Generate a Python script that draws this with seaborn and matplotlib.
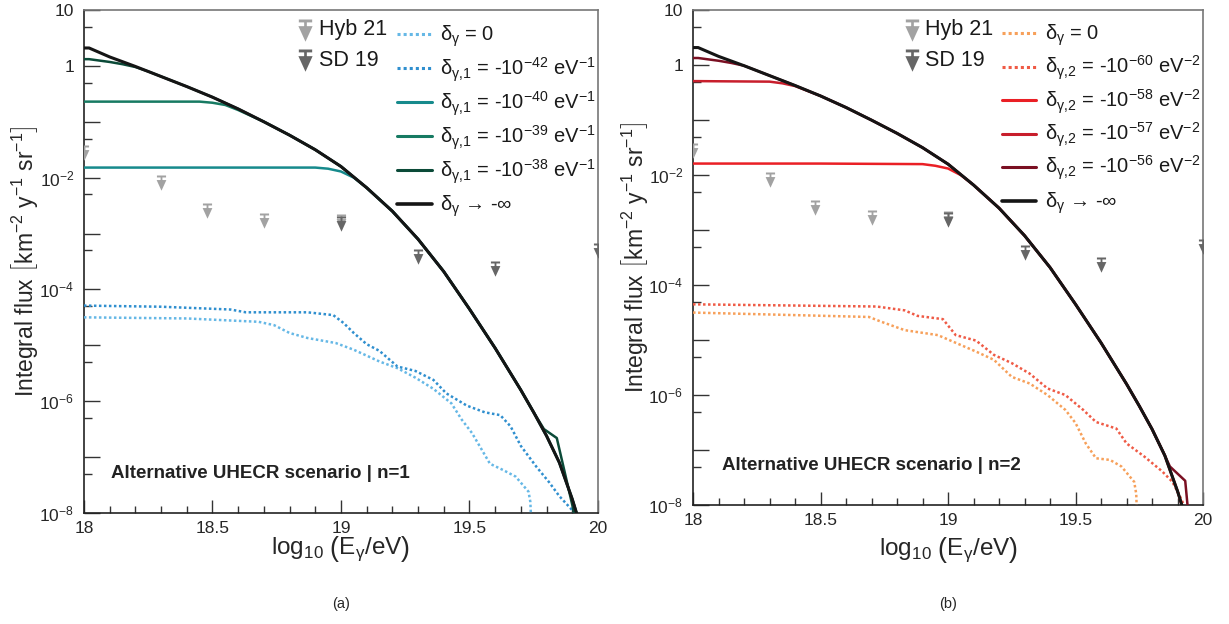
import numpy as np
import pandas as pd
import matplotlib
matplotlib.use("Agg")
import matplotlib.pyplot as plt
import seaborn as sns
from matplotlib.path import Path
from matplotlib.lines import Line2D
from matplotlib.ticker import FixedLocator, FuncFormatter, MultipleLocator

# ── upper limits (log10 E, integral flux) ─────────────────────────────────────
HYB_LOGE = [18.0, 18.3, 18.48, 18.7, 19.0]
HYB_FLUX = [3.9e-2, 1.12e-2, 3.5e-3, 2.3e-3, 2.2e-3]
SD_LOGE = [19.0, 19.3, 19.6, 20.0]
SD_FLUX = [2.1e-3, 5.3e-4, 3.2e-4, 6.8e-4]

# ── delta -> -inf (same in both panels), log10 flux ──────────────────────────
BLACK_X = [18.0, 18.02, 18.1, 18.2, 18.3, 18.4, 18.5, 18.6, 18.7, 18.8, 18.9, 19.0,
           19.1, 19.2, 19.3, 19.4, 19.5, 19.6, 19.7, 19.75, 19.8, 19.85, 19.9, 19.92]
BLACK_LOG = [0.32, 0.32, 0.16, -0.01, -0.19, -0.37, -0.56, -0.77, -1.0, -1.24, -1.5, -1.8,
             -2.18, -2.6, -3.1, -3.68, -4.35, -5.05, -5.8, -6.2, -6.62, -7.1, -7.75, -8.05]

# ── panel (a): n=1 ───────────────────────────────────────────────────────────
A_ZERO_X = [18.0, 18.4, 18.68, 18.74, 18.8, 18.87, 18.98, 19.05, 19.15, 19.22, 19.29,
            19.36, 19.43, 19.47, 19.51, 19.58, 19.63, 19.68, 19.73, 19.737, 19.74]
A_ZERO_LOG = [-4.5, -4.52, -4.58, -4.64, -4.78, -4.87, -4.96, -5.08, -5.29, -5.41, -5.58,
              -5.78, -6.04, -6.33, -6.57, -7.12, -7.23, -7.35, -7.62, -7.8, -8.1]
A42_X = [18.0, 18.3, 18.57, 18.63, 18.87, 18.97, 19.01, 19.05, 19.1, 19.15, 19.22, 19.29,
         19.36, 19.41, 19.49, 19.56, 19.62, 19.66, 19.7, 19.76, 19.81, 19.85, 19.9, 19.92]
A42_LOG = [-4.29, -4.31, -4.36, -4.41, -4.41, -4.46, -4.6, -4.78, -4.98, -5.1, -5.38, -5.46,
           -5.62, -5.86, -6.08, -6.2, -6.25, -6.45, -6.8, -7.17, -7.45, -7.7, -7.95, -8.05]
A40_HEAD_X = [18.0, 18.5, 18.9, 18.95, 19.0, 19.05]
A40_HEAD_LOG = [-1.82, -1.82, -1.82, -1.84, -1.89, -2.0]
A39_HEAD_X = [18.0, 18.45, 18.5, 18.55, 18.6]
A39_HEAD_LOG = [-0.64, -0.64, -0.66, -0.7, -0.79]
A38_HEAD_X = [18.0, 18.02, 18.1, 18.15, 18.2, 18.25]
A38_HEAD_LOG = [0.12, 0.12, 0.07, 0.03, -0.02, -0.1]
A38_TAIL_X = [19.79, 19.84, 19.91]
A38_TAIL_LOG = [-6.5, -6.66, -8.05]

# ── panel (b): n=2 ───────────────────────────────────────────────────────────
B_ZERO_X = [18.0, 18.69, 18.74, 18.83, 18.96, 19.05, 19.11, 19.18, 19.25, 19.32, 19.39,
            19.46, 19.5, 19.54, 19.58, 19.635, 19.68, 19.73, 19.738, 19.74]
B_ZERO_LOG = [-4.5, -4.58, -4.67, -4.82, -4.91, -5.09, -5.21, -5.36, -5.67, -5.79, -6.0,
              -6.27, -6.51, -6.88, -7.15, -7.18, -7.3, -7.58, -7.8, -8.1]
B60_X = [18.0, 18.72, 18.83, 18.88, 18.98, 19.03, 19.11, 19.18, 19.25, 19.32, 19.39,
         19.46, 19.53, 19.58, 19.66, 19.7, 19.77, 19.84, 19.88, 19.91, 19.93]
B60_LOG = [-4.35, -4.39, -4.46, -4.56, -4.62, -4.91, -5.01, -5.27, -5.42, -5.61, -5.88,
           -6.0, -6.27, -6.49, -6.61, -6.88, -7.12, -7.39, -7.58, -7.85, -8.05]
B58_HEAD_X = [18.0, 18.5, 18.9, 18.95, 19.0, 19.05]
B58_HEAD_LOG = [-1.79, -1.79, -1.8, -1.83, -1.88, -2.0]
B57_HEAD_X = [18.0, 18.3, 18.35, 18.4]
B57_HEAD_LOG = [-0.29, -0.3, -0.33, -0.38]
B56_HEAD_X = [18.0, 18.02, 18.1, 18.15, 18.2, 18.25]
B56_HEAD_LOG = [0.13, 0.13, 0.08, 0.04, -0.01, -0.1]
B56_TAIL_X = [19.87, 19.93, 19.94]
B56_TAIL_LOG = [-7.3, -7.56, -8.05]

XTICKS = [18, 18.5, 19, 19.5, 20]
XTICK_LABELS = ["18", "18.5", "19", "19.5", "20"]

W, H = 1229, 624

sns.set_style("ticks")
plt.rcParams["font.family"] = ["Liberation Sans", "DejaVu Sans"]
plt.rcParams["mathtext.fontset"] = "custom"
plt.rcParams["mathtext.rm"] = "Liberation Sans"
plt.rcParams["mathtext.it"] = "Liberation Sans:italic"
plt.rcParams["mathtext.bf"] = "Liberation Sans:bold"


def join_black(head_x, head_log, tail_x=None, tail_log=None):
    """Curve that leaves its plateau and then rides on the delta -> -inf curve."""
    x0 = head_x[-1]
    x1 = tail_x[0] if tail_x else 99
    mid = [(x, l) for x, l in zip(BLACK_X, BLACK_LOG) if x0 < x < x1]
    xs = list(head_x) + [m[0] for m in mid] + list(tail_x or [])
    ls = list(head_log) + [m[1] for m in mid] + list(tail_log or [])
    return xs, ls


def poly(pts):
    return Path(pts + [pts[0]], closed=True)


UL_MARKER = Path.make_compound_path(
    poly([(-0.3, 0.0), (0.3, 0.0), (0.3, -0.13), (-0.3, -0.13)]),
    poly([(-0.06, -0.13), (0.06, -0.13), (0.06, -0.33), (-0.06, -0.33)]),
    poly([(-0.32, -0.3), (0.32, -0.3), (0.0, -1.0)]),
)

HYB_COLOR = "#a2a2a2"
SD_COLOR = "#666666"
DOT = (0, (1, 1))


def fx(xpx):
    return xpx / W


def fy(ypx):
    return 1 - ypx / H


def draw_curve(ax, xs, logs, color, ls, lw, z=3):
    df = pd.DataFrame({"loge": xs, "flux": 10.0 ** np.asarray(logs, dtype=float)})
    sns.lineplot(data=df, x="loge", y="flux", ax=ax, color=color, linestyle=ls,
                 linewidth=lw, estimator=None, sort=False, legend=False, zorder=z)


def draw_limits(ax):
    for xs, ys, col in [(HYB_LOGE, HYB_FLUX, HYB_COLOR), (SD_LOGE, SD_FLUX, SD_COLOR)]:
        df = pd.DataFrame({"loge": xs, "flux": ys})
        sns.scatterplot(data=df, x="loge", y="flux", ax=ax, marker=UL_MARKER, s=480,
                        color=col, edgecolor=col, linewidth=0, legend=False, zorder=4)


def ylab(v, pos):
    k = int(round(np.log10(v)))
    if k == 1:
        return "10"
    if k == 0:
        return "1"
    if k % 2 == 0:
        return r"$10^{%d}$" % k
    return ""


def style_axes(ax, xlab_y):
    ax.set_yscale("log")
    ax.set_xlim(18, 20)
    ax.set_ylim(1e-8, 10)
    ax.yaxis.set_major_locator(FixedLocator([10.0 ** k for k in range(-8, 2)]))
    ax.yaxis.set_minor_locator(FixedLocator([5 * 10.0 ** k for k in range(-8, 1)]))
    ax.yaxis.set_major_formatter(FuncFormatter(ylab))
    ax.xaxis.set_major_locator(FixedLocator(XTICKS))
    ax.xaxis.set_minor_locator(MultipleLocator(0.1))
    ax.set_xticklabels(XTICK_LABELS)
    ax.tick_params(which="both", direction="in", top=False, right=False,
                   color="#333333", labelsize=12.5)
    ax.tick_params(axis="y", which="major", length=11.5, width=1.0, pad=7)
    ax.tick_params(axis="y", which="minor", length=5.8, width=1.0)
    ax.tick_params(axis="x", which="major", length=9.4, width=1.0, pad=6)
    ax.tick_params(axis="x", which="minor", length=5.0, width=1.0)
    for side in ["left", "bottom"]:
        ax.spines[side].set_color("#222222")
        ax.spines[side].set_linewidth(1.2)
    for side in ["top", "right"]:
        ax.spines[side].set_color("#777777")
        ax.spines[side].set_linewidth(1.2)
    ax.set_ylabel(r"Integral flux $\left[\mathrm{km^{-2}\ y^{-1}\ sr^{-1}}\right]$",
                  fontsize=16.5, va="center")
    ax.yaxis.set_label_coords(-0.115, 0.5)
    ax.set_xlabel(r"$\mathrm{log}_{10}\ \left(\mathrm{E_{\gamma}/eV}\right)$",
                  fontsize=17.5, va="center")
    ax.xaxis.set_label_coords(0.5, xlab_y)


def add_legends(lines, mark_x, mark_text_x, line_x0, line_x1, text_x, row0, pitch):
    # upper-limit key
    for i, (col, lab) in enumerate([(HYB_COLOR, "Hyb 21"), (SD_COLOR, "SD 19")]):
        yc = 27.5 + i * 30.5
        fig.add_artist(Line2D([fx(mark_x)], [fy(yc - 9)], transform=fig.transFigure,
                              marker=UL_MARKER, markersize=32, markeredgewidth=0,
                              color=col, linestyle="none"))
        fig.text(fx(mark_text_x), fy(yc + 7.5), lab, fontsize=15.5, va="baseline",
                 color="#1a1a1a")
    # curve key
    for i, (col, ls, lw, lab) in enumerate(lines):
        yc = row0 + i * pitch
        fig.add_artist(Line2D([fx(line_x0), fx(line_x1)], [fy(yc), fy(yc)],
                              transform=fig.transFigure, color=col, linestyle=ls,
                              linewidth=lw + 0.4))
        fig.text(fx(text_x), fy(yc + 7), lab, fontsize=14.5, va="baseline",
                 color="#1a1a1a")


fig = plt.figure(figsize=(12.29, 6.24), dpi=100)
ax1 = fig.add_axes([0.0683, 0.178, 0.4182, 0.806])
ax2 = fig.add_axes([0.5639, 0.1907, 0.415, 0.793])

# ── panel (a) ────────────────────────────────────────────────────────────────
A_LINES = [
    ("#66b8e6", DOT, 1.8, r"$\mathrm{\delta}_{\mathrm{\gamma}}$ = 0"),
    ("#2f8fcf", DOT, 1.8, r"$\mathrm{\delta}_{\mathrm{\gamma},\!1}$ = -10$^{-42}$ eV$^{-1}$"),
    ("#168a8c", "-", 1.8, r"$\mathrm{\delta}_{\mathrm{\gamma},\!1}$ = -10$^{-40}$ eV$^{-1}$"),
    ("#177a62", "-", 1.8, r"$\mathrm{\delta}_{\mathrm{\gamma},\!1}$ = -10$^{-39}$ eV$^{-1}$"),
    ("#0b4a38", "-", 1.8, r"$\mathrm{\delta}_{\mathrm{\gamma},\!1}$ = -10$^{-38}$ eV$^{-1}$"),
    ("#151515", "-", 2.2, r"$\mathrm{\delta}_{\mathrm{\gamma}}$ → -∞"),
]
draw_limits(ax1)
draw_curve(ax1, A_ZERO_X, A_ZERO_LOG, A_LINES[0][0], DOT, 1.8)
draw_curve(ax1, A42_X, A42_LOG, A_LINES[1][0], DOT, 1.8)
draw_curve(ax1, *join_black(A40_HEAD_X, A40_HEAD_LOG), A_LINES[2][0], "-", 1.8)
draw_curve(ax1, *join_black(A39_HEAD_X, A39_HEAD_LOG), A_LINES[3][0], "-", 1.8)
draw_curve(ax1, *join_black(A38_HEAD_X, A38_HEAD_LOG, A38_TAIL_X, A38_TAIL_LOG),
           A_LINES[4][0], "-", 1.8)
draw_curve(ax1, BLACK_X, BLACK_LOG, A_LINES[5][0], "-", 2.2, z=5)
style_axes(ax1, -0.072)
add_legends(A_LINES, 305, 319, 397, 432, 440, 34, 34)
ax1.text(0.052, 0.0775, "Alternative UHECR scenario | n=1", transform=ax1.transAxes,
         fontsize=13.5, fontweight="bold", va="center", color="#222222")

# ── panel (b) ────────────────────────────────────────────────────────────────
B_LINES = [
    ("#f7a05a", DOT, 1.8, r"$\mathrm{\delta}_{\mathrm{\gamma}}$ = 0"),
    ("#ef5a45", DOT, 1.8, r"$\mathrm{\delta}_{\mathrm{\gamma},\!2}$ = -10$^{-60}$ eV$^{-2}$"),
    ("#ea1f25", "-", 1.8, r"$\mathrm{\delta}_{\mathrm{\gamma},\!2}$ = -10$^{-58}$ eV$^{-2}$"),
    ("#c81e2c", "-", 1.8, r"$\mathrm{\delta}_{\mathrm{\gamma},\!2}$ = -10$^{-57}$ eV$^{-2}$"),
    ("#7a0f22", "-", 1.8, r"$\mathrm{\delta}_{\mathrm{\gamma},\!2}$ = -10$^{-56}$ eV$^{-2}$"),
    ("#151515", "-", 2.2, r"$\mathrm{\delta}_{\mathrm{\gamma}}$ → -∞"),
]
draw_limits(ax2)
draw_curve(ax2, B_ZERO_X, B_ZERO_LOG, B_LINES[0][0], DOT, 1.8)
draw_curve(ax2, B60_X, B60_LOG, B_LINES[1][0], DOT, 1.8)
draw_curve(ax2, *join_black(B58_HEAD_X, B58_HEAD_LOG), B_LINES[2][0], "-", 1.8)
draw_curve(ax2, *join_black(B57_HEAD_X, B57_HEAD_LOG), B_LINES[3][0], "-", 1.8)
draw_curve(ax2, *join_black(B56_HEAD_X, B56_HEAD_LOG, B56_TAIL_X, B56_TAIL_LOG),
           B_LINES[4][0], "-", 1.8)
draw_curve(ax2, BLACK_X, BLACK_LOG, B_LINES[5][0], "-", 2.2, z=5)
style_axes(ax2, -0.09)
add_legends(B_LINES, 912, 925, 1002, 1036, 1045, 33, 33.5)
ax2.text(0.057, 0.079, "Alternative UHECR scenario | n=2", transform=ax2.transAxes,
         fontsize=13.5, fontweight="bold", va="center", color="#222222")

fig.text(341 / W, 1 - 604 / H, "(a)", ha="center", va="center", fontsize=10.5)
fig.text(948 / W, 1 - 604 / H, "(b)", ha="center", va="center", fontsize=10.5)

fig.savefig("out.png", dpi=100)
